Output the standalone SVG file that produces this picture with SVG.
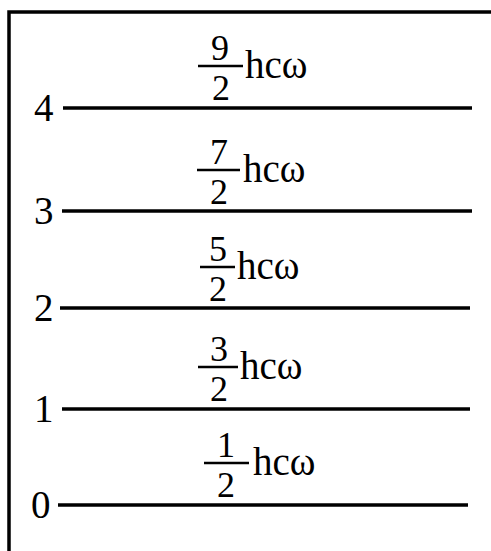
<svg xmlns="http://www.w3.org/2000/svg" width="491" height="551" viewBox="0 0 491 551">
<style>
  .frame { fill: none; stroke: #000; stroke-width: 3.5; }
  .lvl { stroke: #000; stroke-width: 3.5; }
  .bar { stroke: #000; stroke-width: 2.5; }
  text { font-family: "Liberation Serif", "Times New Roman", serif; font-size: 39px; fill: #000; }
  .n { text-anchor: middle; font-size: 36px; }
</style>
<rect width="491" height="551" fill="#fff"/>
<rect class="frame" x="9" y="12" width="500" height="560"/>
<g id="connectors">
  <line class="lvl" x1="63" y1="108" x2="472" y2="108"/>
  <line class="lvl" x1="62" y1="211" x2="472" y2="211"/>
  <line class="lvl" x1="60" y1="308" x2="470" y2="308"/>
  <line class="lvl" x1="62" y1="409" x2="470" y2="409"/>
  <line class="lvl" x1="58" y1="505" x2="468" y2="505"/>
</g>
<g id="level4">
  <text x="34" y="121">4</text>
  <text class="n" x="220" y="60">9</text>
  <line class="bar" x1="198" y1="66" x2="243" y2="66"/>
  <text class="n" x="221" y="100">2</text>
  <text x="245" y="78">hcω</text>
</g>
<g id="level3">
  <text x="34" y="224">3</text>
  <text class="n" x="219" y="164">7</text>
  <line class="bar" x1="197" y1="170" x2="240" y2="170"/>
  <text class="n" x="219" y="204">2</text>
  <text x="243" y="182">hcω</text>
</g>
<g id="level2">
  <text x="34" y="321">2</text>
  <text class="n" x="218" y="261">5</text>
  <line class="bar" x1="200" y1="267" x2="235" y2="267"/>
  <text class="n" x="218" y="301">2</text>
  <text x="237" y="279">hcω</text>
</g>
<g id="level1">
  <text x="34" y="422">1</text>
  <text class="n" x="219" y="361">3</text>
  <line class="bar" x1="198" y1="367" x2="238" y2="367"/>
  <text class="n" x="219" y="401">2</text>
  <text x="240" y="379">hcω</text>
</g>
<g id="level0">
  <text x="31" y="518">0</text>
  <text class="n" x="226" y="457">1</text>
  <line class="bar" x1="204" y1="463" x2="249" y2="463"/>
  <text class="n" x="226" y="497">2</text>
  <text x="253" y="475">hcω</text>
</g>
</svg>
